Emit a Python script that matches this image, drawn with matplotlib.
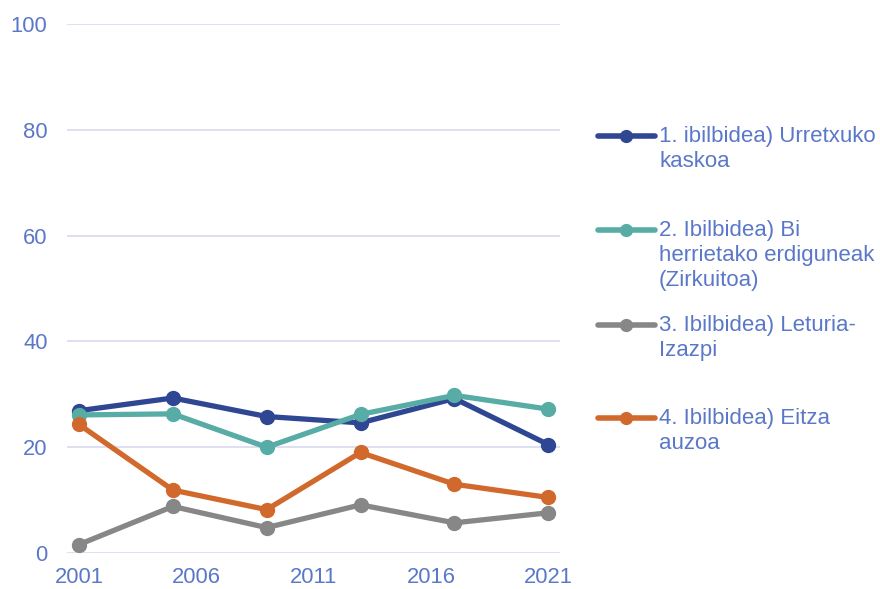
import matplotlib

matplotlib.use("Agg")
import matplotlib.pyplot as plt
from matplotlib.lines import Line2D

years = [2001, 2005, 2009, 2013, 2017, 2021]
route_1 = [26.9, 29.3, 25.8, 24.6, 29.2, 20.5]
route_2 = [26.1, 26.3, 20.0, 26.2, 29.8, 27.2]
route_3 = [1.6, 8.8, 4.8, 9.1, 5.7, 7.6]
route_4 = [24.3, 11.9, 8.2, 19.0, 13.0, 10.5]

labels = [
    "1. ibilbidea) Urretxuko\nkaskoa",
    "2. Ibilbidea) Bi\nherrietako erdiguneak\n(Zirkuitoa)",
    "3. Ibilbidea) Leturia-\nIzazpi",
    "4. Ibilbidea) Eitza\nauzoa",
]
x_ticks = [2001, 2006, 2011, 2016, 2021]
y_ticks = [0, 20, 40, 60, 80, 100]

colors = ["#2f4693", "#57ada6", "#878787", "#d2692c"]
text_color = "#5b78c8"
grid_color = "#dcdcf0"

plt.rcParams["font.family"] = ["Liberation Sans", "DejaVu Sans"]

W, H = 880, 589
fig = plt.figure(figsize=(W / 100, H / 100), dpi=100)
ax = fig.add_axes([67 / W, 1 - 553 / H, (560 - 67) / W, (553 - 24) / H])

series = [route_1, route_2, route_3, route_4]
# grey/orange below, navy/teal on top
for idx in [2, 3, 0, 1]:
    ax.plot(years, series[idx], color=colors[idx], linewidth=3.8, marker="o",
            markersize=10, clip_on=False, zorder=3 + idx)

ax.set_xlim(2000.49, 2021.5)
ax.set_ylim(0, 100)
ax.set_xticks(x_ticks)
ax.set_yticks(y_ticks)
ax.grid(axis="y", color=grid_color, linewidth=1.3)
ax.set_axisbelow(True)
for spine in ax.spines.values():
    spine.set_visible(False)
ax.tick_params(axis="both", length=0, labelsize=15.8, labelcolor=text_color)
ax.tick_params(axis="y", pad=14)
ax.tick_params(axis="x", pad=10)

# manual legend: equal spacing per entry as in the reference
entry_y = [136, 230, 325, 418]
for color, label, y in zip(colors, labels, entry_y):
    yf = 1 - y / H
    fig.add_artist(Line2D([598 / W, 655 / W], [yf, yf], color=color, linewidth=4,
                          solid_capstyle="round", transform=fig.transFigure))
    fig.add_artist(Line2D([626 / W], [yf], color=color, marker="o", markersize=8.5,
                          transform=fig.transFigure))
    fig.text(659 / W, 1 - (y - 10) / H, label, color=text_color, fontsize=16,
             ha="left", va="top", linespacing=1.25)

fig.savefig("out.png", dpi=100)
